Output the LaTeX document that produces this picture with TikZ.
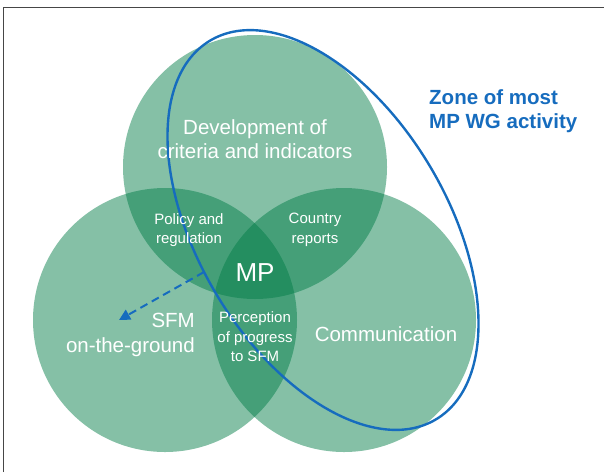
\documentclass[tikz,border=0pt]{standalone}
\usepackage{fontspec}
\setmainfont{Liberation Sans}
\usetikzlibrary{shapes.geometric,arrows.meta}
\definecolor{leafgreen}{RGB}{0,124,70}
\definecolor{zoneblue}{RGB}{22,108,190}
\definecolor{framegray}{RGB}{70,70,70}
\begin{document}
\begin{tikzpicture}[x=1pt,y=-1pt,
  area/.style={circle, minimum size=264pt, inner sep=0pt, outer sep=0pt,
    fill=leafgreen, fill opacity=0.48, draw=none},
  biglabel/.style={text=white, align=center, inner sep=0pt,
    font=\fontsize{20.5}{24.5}\selectfont},
  smalllabel/.style={text=white, align=center, inner sep=0pt,
    font=\fontsize{15}{19.5}\selectfont},
  corelabel/.style={text=white, inner sep=0pt, font=\fontsize{26}{30}\selectfont},
  zonering/.style={ellipse, draw=zoneblue, line width=2.4pt, inner sep=0pt,
    minimum width=441pt, minimum height=249pt, rotate=-59.2},
  zonelabel/.style={text=zoneblue, align=left, inner sep=0pt,
    font=\fontsize{20.5}{24}\selectfont\bfseries},
  pointer/.style={draw=zoneblue, line width=2pt, dash pattern=on 8pt off 5pt,
    -{Triangle[length=11pt,width=11pt]}},
  framing/.style={draw=framegray, line width=1.2pt}
]
\useasboundingbox (0,0) rectangle (604,472);

% page frame (top and left edges)
\draw[framing] (3.5,472) -- (3.5,7.5) -- (604,7.5);

% three overlapping areas
\node[area] (crit) at (255,167) {};
\node[area] (ground) at (165,320) {};
\node[area] (comm) at (344,320) {};

% zone of most working-group activity
\node[zonering] (zone) at (323,230) {};
\node[zonelabel, anchor=west] (zonetext) at (429,111) {Zone of most\\MP WG activity};

% pointer from the zone boundary towards on-the-ground work
\coordinate (dashstart) at (204,272);
\coordinate (dashend) at (119,320);
\draw[pointer] (dashstart) -- (dashend);

% labels
\node[biglabel] (critlabel) at (255,139) {Development of\\criteria and indicators};
\node[biglabel, align=right, anchor=east] (groundlabel) at (195,335) {SFM\\on-the-ground};
\node[biglabel] (commlabel) at (386,334) {Communication};
\node[smalllabel] (policy) at (189,230) {Policy and\\regulation};
\node[smalllabel] (reports) at (315,230) {Country\\reports};
\node[smalllabel] (perception) at (255,337) {Perception\\of progress\\to SFM};
\node[corelabel] (core) at (255,273) {MP};
\end{tikzpicture}
\end{document}
